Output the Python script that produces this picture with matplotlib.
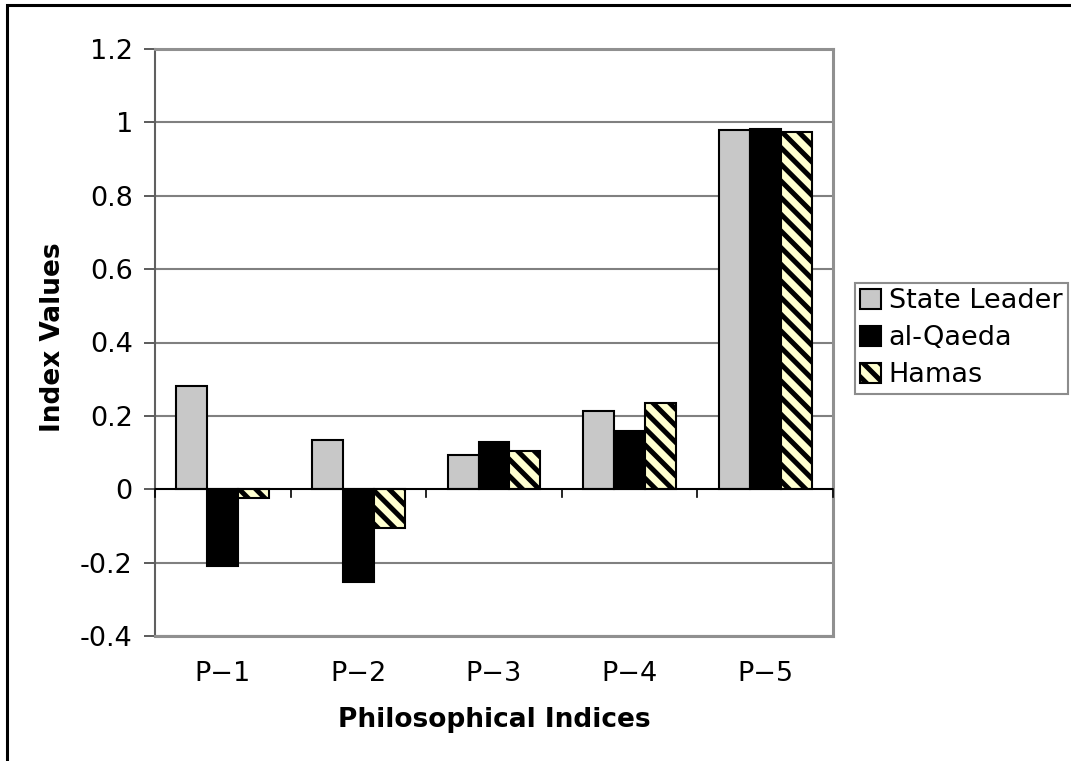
import matplotlib
matplotlib.use("Agg")
import matplotlib.pyplot as plt
import numpy as np
from matplotlib.patches import Rectangle, Patch

categories = ["P\u22121", "P\u22122", "P\u22123", "P\u22124", "P\u22125"]
state_leader = [0.281, 0.134, 0.093, 0.213, 0.978]
al_qaeda = [-0.210, -0.253, 0.130, 0.158, 0.981]
hamas = [-0.023, -0.105, 0.105, 0.234, 0.974]
series_names = ["State Leader", "al-Qaeda", "Hamas"]
yticks = [-0.4, -0.2, 0, 0.2, 0.4, 0.6, 0.8, 1, 1.2]
ytick_labels = ["-0.4", "-0.2", "0", "0.2", "0.4", "0.6", "0.8", "1", "1.2"]

plt.rcParams['font.family'] = ['DejaVu Sans']
plt.rcParams['hatch.linewidth'] = 3.6
plt.rcParams['hatch.color'] = 'black'

W, H = 1071, 761
fig = plt.figure(figsize=(W / 100, H / 100), dpi=100)

# outer chart border (left and top visible)
fig.patches.append(Rectangle((7 / W, -0.1), 1.2, 1 - 5 / H + 0.1, transform=fig.transFigure,
                             fill=False, edgecolor='black', linewidth=2.2))

left, right, top, bottom = 155, 833, 49, 636
ax = fig.add_axes([left / W, 1 - bottom / H, (right - left) / W, (bottom - top) / H])

x = np.arange(len(categories))
w = 0.228
hatch = '\\\\'
ax.bar(x - w, state_leader, w, color='#C8C8C8', edgecolor='black', linewidth=1.5, zorder=3)
ax.bar(x, al_qaeda, w, color='black', edgecolor='black', linewidth=1.5, zorder=3)
ax.bar(x + w, hamas, w, color='#FFFFD0', edgecolor='black', linewidth=1.5, hatch=hatch, zorder=3)

ax.set_xlim(-0.5, len(categories) - 0.5)
ax.set_ylim(-0.4, 1.2)
ax.set_yticks(yticks)
ax.set_yticklabels(ytick_labels)
for yv in yticks:
    if yv != 0:
        ax.axhline(yv, color='#808080', linewidth=1.5, zorder=1)
ax.axhline(0, color='black', linewidth=1.5, zorder=4)

# category boundary ticks on the zero line
for b in np.arange(-0.5, len(categories) + 0.5, 1.0):
    ax.plot([b, b], [0, -0.022], color='black', linewidth=1.2, clip_on=False, zorder=4)

ax.set_xticks(x)
ax.set_xticklabels(categories)
ax.tick_params(axis='x', length=0, pad=18, labelsize=19.5)
ax.tick_params(axis='y', length=8, width=1.2, color='#404040', pad=8, labelsize=19.5)

for s in ['top', 'right', 'bottom']:
    ax.spines[s].set_color('#909090')
    ax.spines[s].set_linewidth(2.2)
ax.spines['left'].set_color('#606060')
ax.spines['left'].set_linewidth(1.5)

fig.text(494 / W, 1 - 720 / H, "Philosophical Indices", fontsize=19, fontweight='bold',
         ha='center', va='center')
fig.text(53 / W, 1 - 337 / H, "Index Values", fontsize=19, fontweight='bold',
         ha='center', va='center', rotation=90)

handles = [Patch(facecolor='#C8C8C8', edgecolor='black', linewidth=1.5),
           Patch(facecolor='black', edgecolor='black', linewidth=1.5),
           Patch(facecolor='#FFFFD0', edgecolor='black', linewidth=1.5, hatch=hatch)]
leg = fig.legend(handles, series_names, loc='upper left', bbox_to_anchor=(855 / W, 1 - 283 / H),
                 fontsize=19.5, frameon=True, fancybox=False, edgecolor='#707070',
                 handlelength=0.75, handleheight=0.75, handletextpad=0.3, borderpad=0.2,
                 labelspacing=0.4, borderaxespad=0)
leg.get_frame().set_linewidth(1.5)

fig.savefig("out.png", dpi=100)
